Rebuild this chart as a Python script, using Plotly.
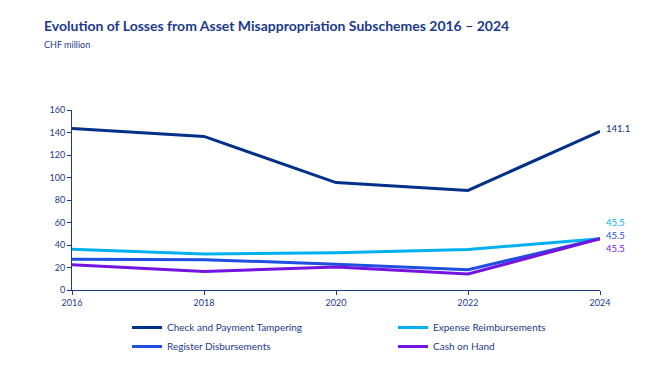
import plotly.graph_objects as go

years = [2016, 2018, 2020, 2022, 2024]
check_payment = [143.5, 136.5, 95.5, 88.5, 141.1]
expense_reimb = [36.3, 32.0, 33.2, 36.0, 45.5]
register_disb = [27.3, 27.0, 23.0, 18.0, 45.5]
cash_on_hand = [22.5, 16.5, 20.5, 14.2, 45.5]

series_names = ["Check and Payment Tampering", "Expense Reimbursements",
                "Register Disbursements", "Cash on Hand"]
series_values = [check_payment, expense_reimb, register_disb, cash_on_hand]
colors = ["#003087", "#00B0F0", "#1F4FE0", "#7514E0"]
legend_ids = ["legend", "legend2", "legend", "legend2"]
label_shifts = [3, 16, 3, -10]

TXT = "#1B3A8C"
FONT = "Lato"

fig = go.Figure()
for i in range(4):
    fig.add_trace(go.Scatter(
        x=years, y=series_values[i], name=series_names[i], mode="lines",
        line=dict(color=colors[i], width=3), legend=legend_ids[i],
    ))

for i in range(4):
    fig.add_annotation(
        x=years[-1], y=series_values[i][-1], text=f"{series_values[i][-1]:.1f}",
        xanchor="left", yanchor="middle", xshift=4, yshift=label_shifts[i],
        showarrow=False, font=dict(color=colors[i], size=9.5, family=FONT),
    )

legend_common = dict(orientation="v", xref="container", yref="container",
                     xanchor="left", yanchor="top",
                     font=dict(size=10, color=TXT, family=FONT),
                     itemwidth=30, tracegroupgap=0, bgcolor="rgba(0,0,0,0)")

fig.update_layout(
    width=660, height=380,
    margin=dict(l=64, r=68, t=102, b=98, autoexpand=False),
    paper_bgcolor="white", plot_bgcolor="white",
    font=dict(family=FONT, color=TXT, size=9),
    showlegend=True,
    legend=dict(x=119 / 660, y=1 - 305 / 380, **legend_common),
    legend2=dict(x=385 / 660, y=1 - 305 / 380, **legend_common),
)
fig.add_annotation(
    xref="paper", yref="paper", x=0, y=1.0, xanchor="left", yanchor="middle",
    xshift=-30, yshift=85, showarrow=False,
    text="<b>Evolution of Losses from Asset Misappropriation Subschemes 2016 \u2013 2024</b>",
    font=dict(size=14, color=TXT, family=FONT),
)
fig.add_annotation(
    xref="paper", yref="paper", x=0, y=1.0, xanchor="left", yanchor="middle",
    xshift=-30, yshift=66, showarrow=False, text="CHF million",
    font=dict(size=9, color=TXT, family=FONT),
)

fig.update_xaxes(range=[2016, 2024], tickvals=years, showgrid=False, zeroline=False,
                 showline=True, linecolor=TXT, linewidth=1, ticks="outside",
                 ticklen=4, tickcolor=TXT, tickfont=dict(size=9, color=TXT))
fig.update_yaxes(range=[0, 160], dtick=20, showgrid=False, zeroline=False,
                 showline=True, linecolor=TXT, linewidth=1, ticks="outside",
                 ticklen=4, tickcolor=TXT, tickfont=dict(size=9, color=TXT))

fig.write_html("out.html")
